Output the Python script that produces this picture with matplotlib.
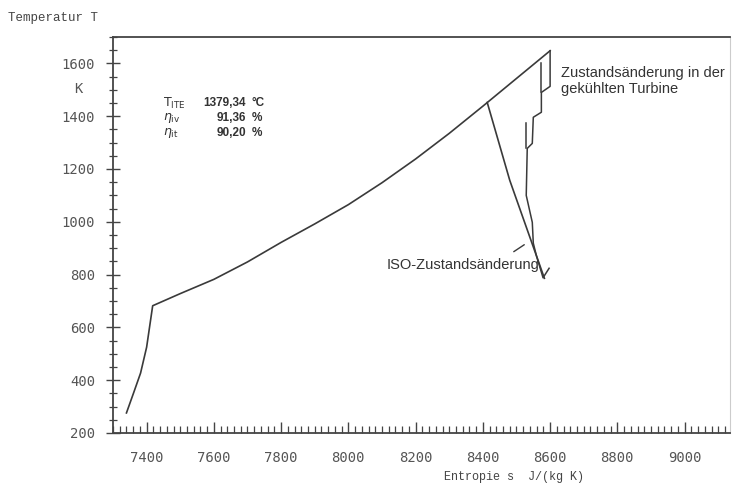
import numpy as np
import matplotlib
matplotlib.use("Agg")
import matplotlib.pyplot as plt
from matplotlib.ticker import MultipleLocator

# ---- data ----
main_s = [7340, 7361, 7382, 7400, 7418, 7500, 7600, 7700, 7800, 7900, 8000,
          8100, 8200, 8300, 8400, 8500, 8600]
main_T = [276, 351, 427, 525, 682, 728, 782, 848, 922, 992, 1065,
          1148, 1238, 1335, 1438, 1543, 1648]

iso_s = [8413, 8480, 8583]
iso_T = [1452, 1157, 786]

turb_s = [8600, 8600, 8583, 8574, 8574, 8550, 8547, 8532, 8529, 8547, 8550, 8559, 8579, 8597]
turb_T = [1648, 1513, 1498, 1490, 1415, 1396, 1297, 1278, 1100, 998, 919, 873, 788, 824]

aux_s = [8574, 8574, np.nan, 8529, 8529]
aux_T = [1600, 1490, np.nan, 1373, 1278]

x_range = (7300, 9135)
y_range = (200, 1700)

info_labels = [r'$\mathrm{T}_{\mathrm{ITE}}$', r'$\eta_{\mathrm{iv}}$', r'$\eta_{\mathrm{it}}$']
info_values = ['1379,34', '91,36', '90,20']
info_units = ['°C', '%', '%']

W, H = 732, 484
fig = plt.figure(figsize=(W / 100, H / 100), dpi=100)
fig.patch.set_facecolor('white')

def fx(px):
    return px / W

def fy(py):
    return 1 - py / H

ax = fig.add_axes([fx(113), fy(433), fx(730) - fx(113), fy(37) - fy(433)])
ax.set_xlim(*x_range)
ax.set_ylim(*y_range)

lc = '#3a3a3a'
ax.plot(main_s, main_T, color=lc, lw=1.2)
ax.plot(iso_s, iso_T, color=lc, lw=1.2)
ax.plot(turb_s, turb_T, color=lc, lw=1.1)
ax.plot(aux_s, aux_T, color=lc, lw=1.1)

for side in ['left', 'bottom', 'top']:
    ax.spines[side].set_color('#444444')
    ax.spines[side].set_linewidth(1.3)
ax.spines['right'].set_color('#cccccc')
ax.spines['right'].set_linewidth(0.8)

ax.xaxis.set_major_locator(MultipleLocator(200))
ax.xaxis.set_minor_locator(MultipleLocator(20))
ax.yaxis.set_major_locator(MultipleLocator(200))
ax.yaxis.set_minor_locator(MultipleLocator(50))

tick_font = 'DejaVu Sans Mono'
ax.tick_params(axis='x', which='major', direction='in', length=8, width=1.0,
               color='#444444', pad=13, labelsize=10, labelcolor='#555555')
ax.tick_params(axis='x', which='minor', direction='in', length=5, width=0.9, color='#444444')
ax.tick_params(axis='y', which='major', direction='inout', length=10, width=1.0,
               color='#444444', pad=8, labelsize=10, labelcolor='#555555')
ax.tick_params(axis='y', which='minor', direction='inout', length=6, width=0.9, color='#444444')
ax.tick_params(top=False, right=False, which='both')
for lab in ax.get_xticklabels() + ax.get_yticklabels():
    lab.set_fontfamily(tick_font)

# axis titles
fig.text(fx(8), fy(18), 'Temperatur T', family='Liberation Mono', fontsize=9,
         color='#444444', va='center', ha='left')
fig.text(fx(78), fy(89), 'K', family='DejaVu Sans Mono', fontsize=10,
         color='#555555', va='center', ha='center')
fig.text(fx(514), fy(477), 'Entropie s  J/(kg K)', family='Liberation Mono', fontsize=8.5,
         color='#444444', va='center', ha='center')

# info block
rows_y = [103, 118, 133]
for lab, val, unit, yy in zip(info_labels, info_values, info_units, rows_y):
    fig.text(fx(163), fy(yy), lab, family='Liberation Sans', fontsize=9,
             color='#333333', va='center', ha='left')
    fig.text(fx(246), fy(yy), val, family='Liberation Sans', fontsize=8.5,
             fontweight='bold', color='#333333', va='center', ha='right')
    fig.text(fx(252), fy(yy), unit, family='Liberation Sans', fontsize=8.5,
             fontweight='bold', color='#333333', va='center', ha='left')

# annotations
fig.text(fx(561), fy(66), 'Zustandsänderung in der\ngekühlten Turbine',
         family='Liberation Sans', fontsize=10.5, color='#333333',
         va='top', ha='left', linespacing=1.15)
fig.text(fx(540), fy(265), 'ISO-Zustandsänderung', family='Liberation Sans',
         fontsize=10.5, color='#333333', va='center', ha='right')
ax.annotate('', xy=(8530, 919), xytext=(8485, 881),
            arrowprops=dict(arrowstyle='-', color=lc, lw=1.0))

fig.savefig('out.png', dpi=100, facecolor='white')
